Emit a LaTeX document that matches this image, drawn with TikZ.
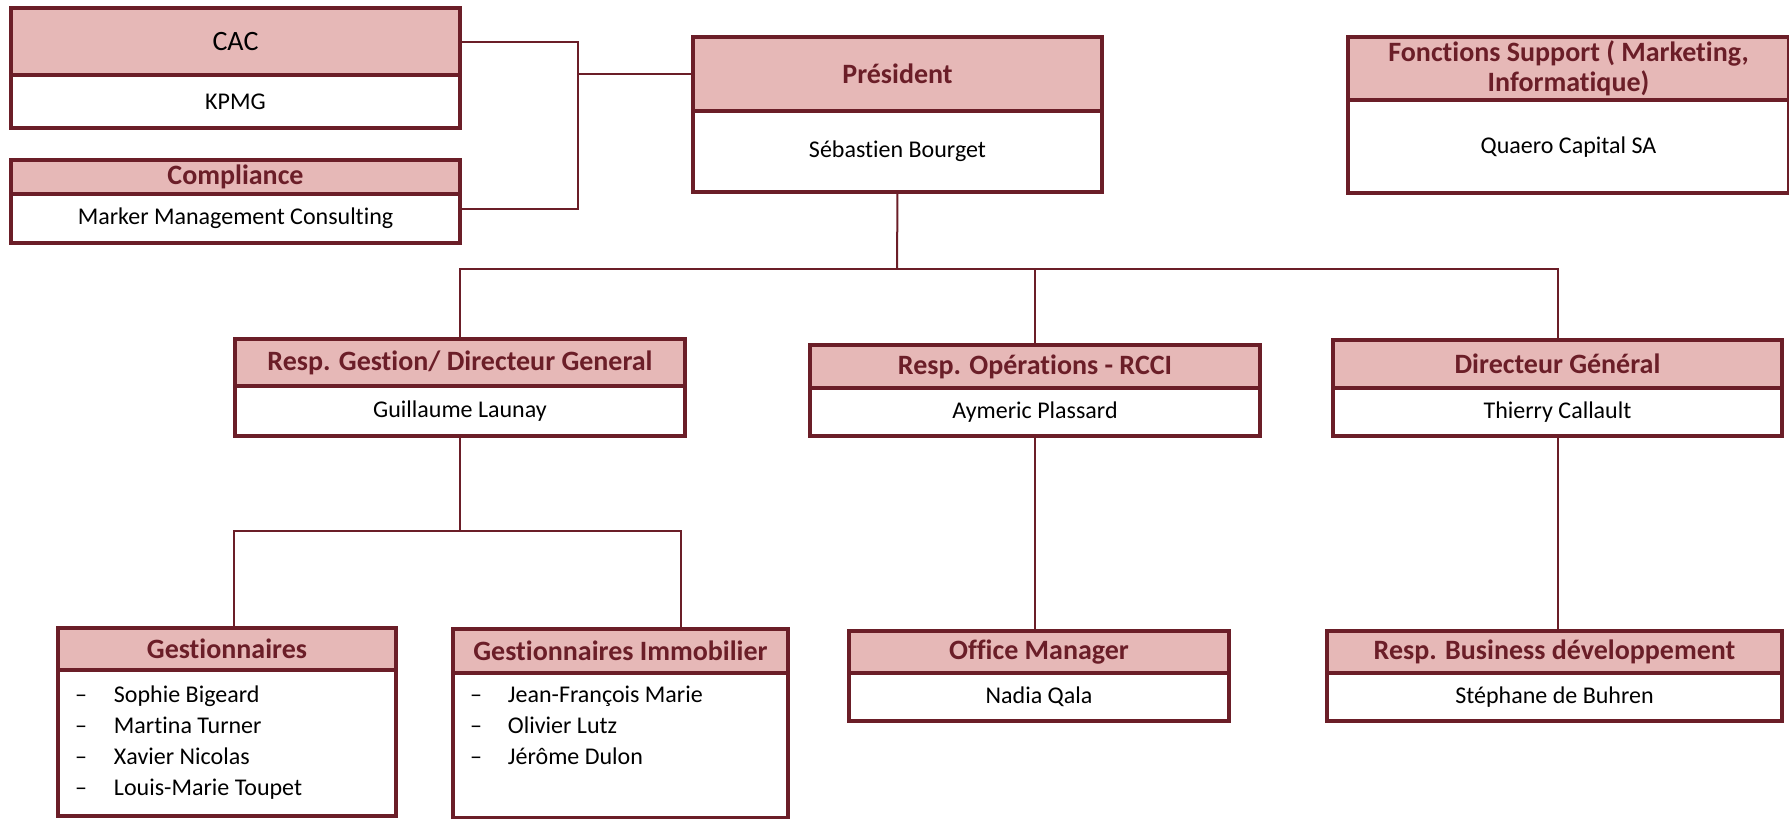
\documentclass[tikz,border=0pt]{standalone}
\usepackage{fontspec}
\setmainfont{Carlito}[Ligatures=NoCommon]
\usetikzlibrary{positioning}

\definecolor{maroon}{RGB}{107,30,40}
\definecolor{rose}{RGB}{230,184,183}

\begin{document}
\begin{tikzpicture}[
    x=0.5pt, y=-0.5pt,
    box/.style={rectangle, draw=maroon, line width=2pt, outer sep=0pt, inner sep=2pt},
    head/.style={box, fill=rose, text=maroon, font=\fontsize{14}{15}\selectfont\bfseries, align=flush center},
    body/.style={box, fill=white, text=black, font=\fontsize{12}{15.5}\selectfont, align=flush center},
    list/.style={body, align=flush left, inner xsep=8.5pt},
    link/.style={draw=maroon, line width=1pt}
]
\useasboundingbox (0,0) rectangle (1789,819);

% Top left
\node[head, anchor=north west, minimum width=224.5pt, minimum height=33.5pt, text=black, font=\fontsize{14}{15}\selectfont] (cacH) at (11,8) {CAC};
\node[body, below=0pt of cacH, minimum width=224.5pt, minimum height=26.5pt] (cacB) {KPMG};

\node[head, anchor=north west, minimum width=224.5pt, minimum height=17pt] (complianceH) at (11,160) {Compliance};
\node[body, below=0pt of complianceH, minimum width=224.5pt, minimum height=24.5pt] (complianceB) {Marker Management Consulting};

% President
\node[head, anchor=north west, minimum width=204.5pt, minimum height=37pt] (presH) at (693,37) {Président};
\node[body, below=0pt of presH, minimum width=204.5pt, minimum height=40.5pt] (presB) {Sébastien Bourget};

% Support
\node[head, anchor=north west, minimum width=220.5pt, minimum height=31pt] (supportH) at (1348,37) {Fonctions Support ( Marketing,\\Informatique)};
\node[body, below=0pt of supportH, minimum width=220.5pt, minimum height=46.5pt] (supportB) {Quaero Capital SA};

% Second level
\node[head, anchor=north west, minimum width=225pt, minimum height=23.5pt] (gestionH) at (235,339) {Resp. Gestion/ Directeur General};
\node[body, below=0pt of gestionH, minimum width=225pt, minimum height=25pt] (gestionB) {Guillaume Launay};

\node[head, anchor=north west, minimum width=225pt, minimum height=21.5pt] (operH) at (810,345) {Resp. Opérations - RCCI};
\node[body, below=0pt of operH, minimum width=225pt, minimum height=24pt] (operB) {Aymeric Plassard};

\node[head, anchor=north west, minimum width=224.5pt, minimum height=24pt] (dirgenH) at (1333,340) {Directeur Général};
\node[body, below=0pt of dirgenH, minimum width=224.5pt, minimum height=24pt] (dirgenB) {Thierry Callault};

% Third level
\node[head, anchor=north west, minimum width=169pt, minimum height=21pt] (gestnH) at (58,628) {Gestionnaires};
\node[list, below=0pt of gestnH, minimum width=169pt, minimum height=73pt, text width=152pt] (gestnB) {\makebox[19.5pt][l]{–}Sophie Bigeard\\\makebox[19.5pt][l]{–}Martina Turner\\\makebox[19.5pt][l]{–}Xavier Nicolas\\\makebox[19.5pt][l]{–}Louis-Marie Toupet};

\node[head, anchor=north west, minimum width=167.5pt, minimum height=22pt] (immoH) at (453,629) {Gestionnaires Immobilier};
\node[list, below=0pt of immoH, minimum width=167.5pt, minimum height=72.5pt, text width=150.5pt] (immoB) {\makebox[19pt][l]{–}Jean-François Marie\\\makebox[19pt][l]{–}Olivier Lutz\\\makebox[19pt][l]{–}Jérôme Dulon\\\strut};

\node[head, anchor=north west, minimum width=190pt, minimum height=21pt] (officeH) at (849,631) {Office Manager};
\node[body, below=0pt of officeH, minimum width=190pt, minimum height=24pt] (officeB) {Nadia Qala};

\node[head, anchor=north west, minimum width=227.5pt, minimum height=21pt] (businessH) at (1327,631) {Resp. Business développement};
\node[body, below=0pt of businessH, minimum width=227.5pt, minimum height=24pt] (businessB) {Stéphane de Buhren};

% Links
\coordinate (cjoin) at (578,74);
\coordinate (bus) at (897,269);
\coordinate (subbus) at (460,531);
\coordinate (subL) at (234,531);
\coordinate (subR) at (681,531);

\draw[link] (cacH.east) -| (cjoin) |- ([yshift=5pt]complianceB.east);
\draw[link] (cjoin) -- (presH.west);
\draw[link] (presB.south) -- (bus);
\draw[link] (gestionH.north) -- (gestionH.north |- bus) -- (dirgenH.north |- bus) -- (dirgenH.north);
\draw[link] (operH.north) -- (operH.north |- bus);
\draw[link] (gestionB.south) -- (subbus);
\draw[link] (gestnH.north -| subL) -- (subL) -- (subR) -- (immoH.north -| subR);
\draw[link] (operB.south) -- (operB.south |- officeH.north);
\draw[link] (dirgenB.south) -- (dirgenB.south |- businessH.north);
\end{tikzpicture}
\end{document}
